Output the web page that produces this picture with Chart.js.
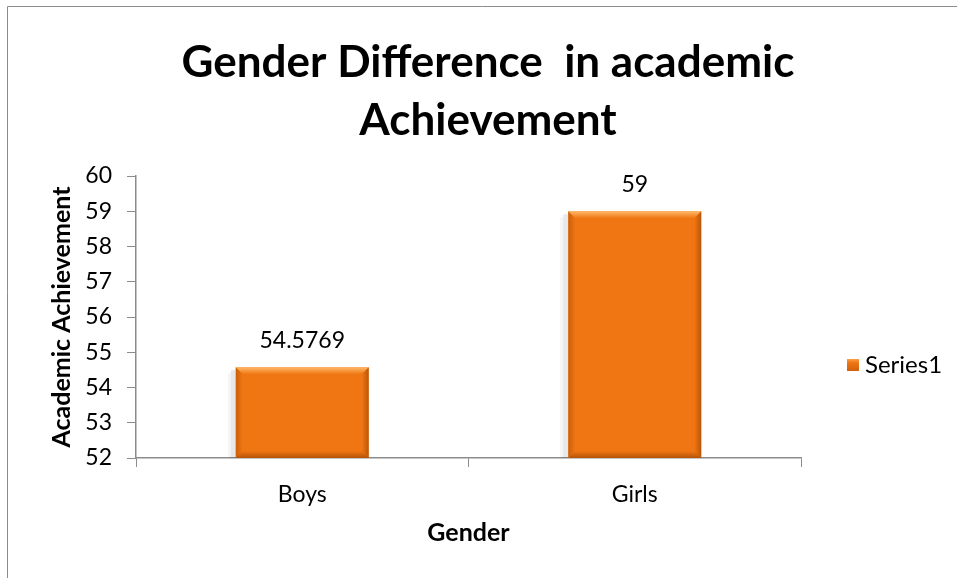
<!DOCTYPE html>
<html>
<head>
<meta charset="utf-8">
<script src="https://cdn.jsdelivr.net/npm/chart.js@4/dist/chart.umd.min.js"></script>
<style>
  html, body { margin: 0; padding: 0; background: #fff; overflow: hidden; }
  #wrap { position: relative; width: 957px; height: 578px; }
</style>
</head>
<body>
<div id="wrap"><canvas id="c" width="957" height="578"></canvas></div>
<script>
// ---- data ----
const categories = ['Boys', 'Girls'];
const seriesName = 'Series1';
const seriesValues = [54.5769, 59];
const yMin = 52;
const yMax = 60;
const yStep = 1;
const titleLines = ['Gender Difference  in academic', 'Achievement'];
const xTitle = 'Gender';
const yTitle = 'Academic Achievement';

const FONT = 'Lato';
const BAR_COLOR = '#F07613';

// frame border (left and top edges of the chart box)
const framePlugin = {
  id: 'frame',
  beforeDraw(chart) {
    const ctx = chart.ctx;
    ctx.save();
    ctx.fillStyle = '#ffffff';
    ctx.fillRect(0, 0, chart.width, chart.height);
    ctx.strokeStyle = '#8c8c8c';
    ctx.lineWidth = 1;
    ctx.beginPath();
    ctx.moveTo(7.5, chart.height);
    ctx.lineTo(7.5, 6.5);
    ctx.lineTo(chart.width, 6.5);
    ctx.stroke();
    ctx.restore();
  }
};

// chart title centred over the whole chart box
const titlePlugin = {
  id: 'boxTitle',
  afterDraw(chart) {
    const ctx = chart.ctx;
    ctx.save();
    ctx.font = 'bold 44px ' + FONT;
    ctx.fillStyle = '#000';
    ctx.textAlign = 'center';
    ctx.textBaseline = 'middle';
    titleLines.forEach((line, i) => ctx.fillText(line, 488, 63 + i * 58));
    ctx.restore();
  }
};

// bar shadow + bevel styling drawn from the bar elements' own geometry
function barBox(chart, bar) {
  const l = bar.x - bar.width / 2, r = bar.x + bar.width / 2;
  const t = bar.y, b = Math.min(bar.base, chart.chartArea.bottom);
  return { l, r, t, b };
}
const bevelPlugin = {
  id: 'bevel',
  beforeDatasetsDraw(chart) {
    const ctx = chart.ctx;
    chart.getDatasetMeta(0).data.forEach(bar => {
      const { l, t, b } = barBox(chart, bar);
      ctx.save();
      ctx.fillStyle = 'rgba(0,0,0,0.09)';
      ctx.fillRect(l - 5, t + 3, 5, b - t - 3);
      ctx.fillStyle = 'rgba(0,0,0,0.04)';
      ctx.fillRect(l - 8, t + 6, 3, b - t - 6);
      ctx.restore();
    });
  },
  afterDatasetsDraw(chart) {
    const ctx = chart.ctx;
    chart.getDatasetMeta(0).data.forEach(bar => {
      const { l, r, t, b } = barBox(chart, bar);
      const bw = 7;
      ctx.save();
      let g = ctx.createLinearGradient(0, t, 0, t + bw);
      g.addColorStop(0, 'rgba(255,190,110,0.95)');
      g.addColorStop(1, 'rgba(255,190,110,0)');
      ctx.fillStyle = g;
      ctx.beginPath();
      ctx.moveTo(l, t); ctx.lineTo(r, t); ctx.lineTo(r - bw, t + bw); ctx.lineTo(l + bw, t + bw); ctx.closePath();
      ctx.fill();
      g = ctx.createLinearGradient(l, 0, l + bw, 0);
      g.addColorStop(0, 'rgba(170,75,0,0.55)');
      g.addColorStop(1, 'rgba(170,75,0,0)');
      ctx.fillStyle = g;
      ctx.beginPath();
      ctx.moveTo(l, t); ctx.lineTo(l + bw, t + bw); ctx.lineTo(l + bw, b - bw); ctx.lineTo(l, b); ctx.closePath();
      ctx.fill();
      g = ctx.createLinearGradient(r, 0, r - bw, 0);
      g.addColorStop(0, 'rgba(150,65,0,0.6)');
      g.addColorStop(1, 'rgba(150,65,0,0)');
      ctx.fillStyle = g;
      ctx.beginPath();
      ctx.moveTo(r, t); ctx.lineTo(r - bw, t + bw); ctx.lineTo(r - bw, b - bw); ctx.lineTo(r, b); ctx.closePath();
      ctx.fill();
      g = ctx.createLinearGradient(0, b, 0, b - bw);
      g.addColorStop(0, 'rgba(140,60,0,0.6)');
      g.addColorStop(1, 'rgba(140,60,0,0)');
      ctx.fillStyle = g;
      ctx.beginPath();
      ctx.moveTo(l, b); ctx.lineTo(r, b); ctx.lineTo(r - bw, b - bw); ctx.lineTo(l + bw, b - bw); ctx.closePath();
      ctx.fill();
      ctx.restore();
    });
  }
};

// value labels above the bars
const valueLabelPlugin = {
  id: 'valueLabels',
  afterDatasetsDraw(chart) {
    const ctx = chart.ctx;
    const ds = chart.data.datasets[0];
    ctx.save();
    ctx.font = '23px ' + FONT;
    ctx.fillStyle = '#000';
    ctx.textAlign = 'center';
    ctx.textBaseline = 'alphabetic';
    chart.getDatasetMeta(0).data.forEach((bar, i) => {
      ctx.fillText(String(ds.data[i]), bar.x, bar.y - 19);
    });
    ctx.restore();
  }
};

// legend on the right (Excel style)
const legendPlugin = {
  id: 'sideLegend',
  afterDraw(chart) {
    const ctx = chart.ctx;
    const ds = chart.data.datasets[0];
    const cy = 365;
    const bx = 847;
    ctx.save();
    const g = ctx.createLinearGradient(0, cy - 6, 0, cy + 6);
    g.addColorStop(0, '#F9A24C');
    g.addColorStop(0.3, BAR_COLOR);
    g.addColorStop(1, '#D0600C');
    ctx.fillStyle = g;
    ctx.fillRect(bx, cy - 6, 12, 12);
    ctx.font = '24px ' + FONT;
    ctx.fillStyle = '#000';
    ctx.textAlign = 'left';
    ctx.textBaseline = 'middle';
    ctx.fillText(ds.label, bx + 18, cy);
    ctx.restore();
  }
};

new Chart(document.getElementById('c'), {
  type: 'bar',
  data: {
    labels: categories,
    datasets: [{
      label: seriesName,
      data: seriesValues,
      backgroundColor: BAR_COLOR,
      borderWidth: 0,
      categoryPercentage: 1.0,
      barPercentage: 0.4
    }]
  },
  options: {
    responsive: false,
    animation: false,
    devicePixelRatio: 1,
    layout: { padding: { left: 0, right: 156, top: 176, bottom: 0 } },
    plugins: {
      legend: { display: false },
      tooltip: { enabled: false },
      title: { display: false }
    },
    scales: {
      x: {
        grid: {
          display: true,
          offset: true,
          drawOnChartArea: false,
          drawTicks: true,
          tickLength: 9,
          color: '#8c8c8c'
        },
        border: { display: true, color: '#8c8c8c', width: 1.5 },
        ticks: { color: '#000', font: { family: FONT, size: 23 }, padding: 14 },
        title: {
          display: true, text: xTitle, color: '#000',
          font: { family: FONT, size: 25, weight: 'bold', lineHeight: 1.2 },
          padding: { top: 10, bottom: 30 }
        },
        afterFit(scale) { scale.height = 120; }
      },
      y: {
        min: yMin, max: yMax,
        ticks: { stepSize: yStep, color: '#000', font: { family: FONT, size: 23 }, padding: 15 },
        grid: {
          display: true,
          drawOnChartArea: false,
          drawTicks: true,
          tickLength: 9,
          color: '#8c8c8c'
        },
        border: { display: true, color: '#8c8c8c', width: 1.5 },
        title: {
          display: true, text: yTitle, color: '#000',
          font: { family: FONT, size: 25, weight: 'bold', lineHeight: 1.2 },
          padding: { top: 47, bottom: 0 }
        },
        afterFit(scale) { scale.width = 136; }
      }
    }
  },
  plugins: [framePlugin, titlePlugin, bevelPlugin, valueLabelPlugin, legendPlugin]
});
</script>
</body>
</html>
